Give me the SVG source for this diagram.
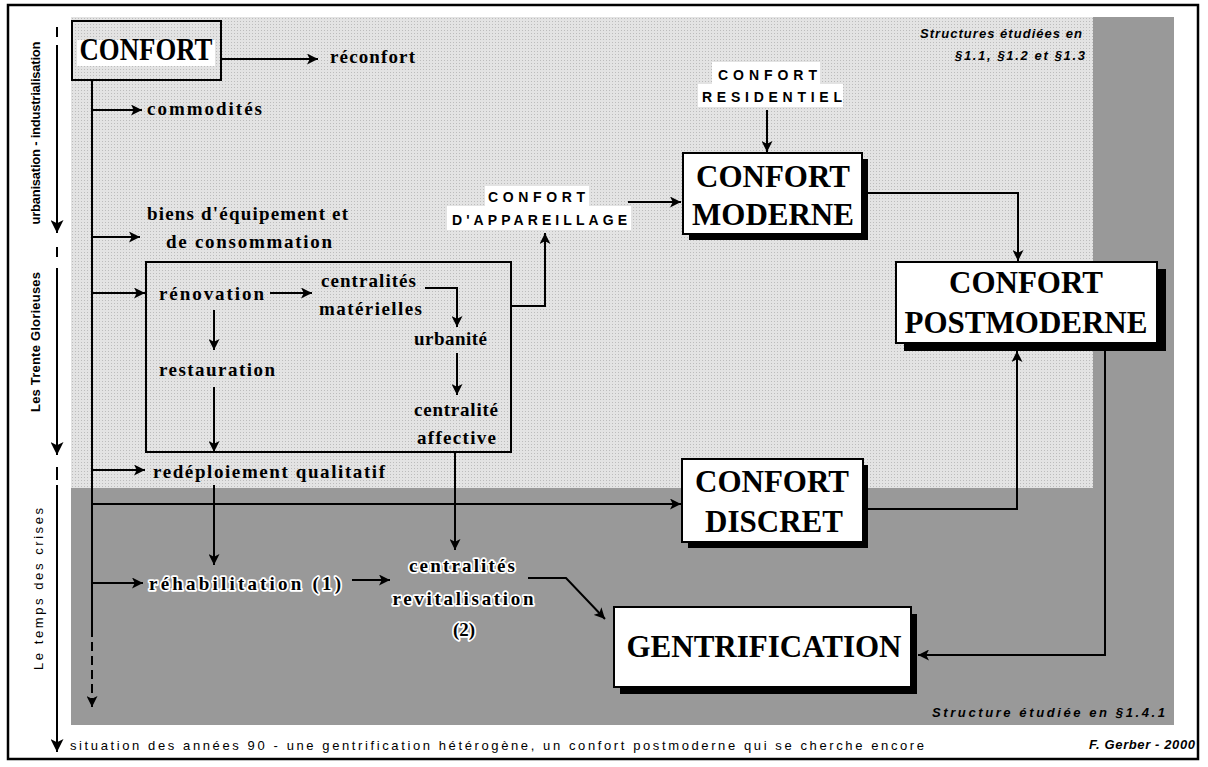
<svg xmlns="http://www.w3.org/2000/svg" width="1208" height="767" viewBox="0 0 1208 767">
<defs>
<pattern id="dots" width="3" height="3" patternUnits="userSpaceOnUse">
<rect width="3" height="3" fill="#e3e3e3"/>
<rect width="1" height="1" fill="#bcbcbc"/>
</pattern>
<marker id="ar" viewBox="0 0 10 10" markerWidth="11" markerHeight="11" refX="10" refY="5" orient="auto" markerUnits="userSpaceOnUse">
<path d="M0,0 L10,5 L0,10 L2.5,5 z" fill="#000"/>
</marker>
<marker id="arb" viewBox="0 0 10 10" markerWidth="13" markerHeight="13" refX="10" refY="5" orient="auto" markerUnits="userSpaceOnUse">
<path d="M0,0 L10,5 L0,10 L2.5,5 z" fill="#000"/>
</marker>
</defs>
<style>
.ln{fill:none;stroke:#000;stroke-width:2}
.arr{marker-end:url(#ar)}
.sl{font-family:"Liberation Serif",serif;font-weight:bold;font-size:19px;fill:#000}
.halo{stroke:#fff;stroke-width:3.5;paint-order:stroke;stroke-linejoin:round}
.box{fill:#fff;stroke:#000;stroke-width:2}
.sh{fill:#000}
.bt{font-family:"Liberation Serif",serif;font-weight:bold;font-size:31px;fill:#000;text-anchor:middle}
.sn{font-family:"Liberation Sans",sans-serif;font-weight:bold;font-size:14px;fill:#000}
.ax{font-family:"Liberation Sans",sans-serif;font-size:13px;fill:#000;text-anchor:middle}
.it{font-family:"Liberation Sans",sans-serif;font-style:italic;font-weight:bold;font-size:13px;fill:#000}
</style>
<rect x="0" y="0" width="1208" height="767" fill="#fff"/>
<rect x="8" y="5" width="1190" height="754" fill="#fff" stroke="#000" stroke-width="2.5"/>
<rect x="71" y="17" width="1103" height="708" fill="#999"/>
<rect x="71" y="17" width="1022" height="471" fill="url(#dots)"/>

<g id="axes">
<path class="ln" d="M57,27 V37 M57,247 V257 M57,467 V480" stroke-width="2"/>
<path class="ln" d="M57,45 V233" marker-end="url(#arb)"/>
<path class="ln" d="M57,268 V455" marker-end="url(#arb)"/>
<path class="ln" d="M57,485 V752" marker-end="url(#arb)"/>
<text class="ax" font-weight="bold" transform="translate(40,133) rotate(-90)" textLength="183" lengthAdjust="spacing">urbanisation - industrialisation</text>
<text class="ax" font-weight="bold" transform="translate(40,342) rotate(-90)" textLength="140" lengthAdjust="spacing">Les Trente Glorieuses</text>
<text class="ax" font-size="14" transform="translate(43,589) rotate(-90)" textLength="162" lengthAdjust="spacing">Le temps des crises</text>
</g>

<g id="connectors">
<path class="ln arr" d="M221,59 H318"/>
<path class="ln" d="M92,80 V628"/>
<path class="ln arr" d="M92,628 V707" stroke-dasharray="9,5"/>
<path class="ln arr" d="M92,110 H142"/>
<path class="ln arr" d="M92,237 H140"/>
<path class="ln arr" d="M92,293 H145"/>
<path class="ln arr" d="M270,293 H312"/>
<path class="ln arr" d="M425,288 H457 V327"/>
<path class="ln arr" d="M457,353 V395"/>
<path class="ln arr" d="M214,310 V350"/>
<path class="ln arr" d="M214,387 V452"/>
<path class="ln arr" d="M92,470 H145"/>
<path class="ln arr" d="M214,485 V565"/>
<path class="ln arr" d="M455,452 V550"/>
<path class="ln arr" d="M92,504 H681"/>
<path class="ln arr" d="M92,583 H143"/>
<path class="ln arr" d="M352,580 H390"/>
<path class="ln arr" d="M528,578 H566 L605,619" stroke-width="1.5"/>
<path class="ln arr" d="M511,306 H545 V233"/>
<path class="ln arr" d="M628,202 H681"/>
<path class="ln arr" d="M767,110 V152"/>
<path class="ln arr" d="M862,193 H1018 V261"/>
<path class="ln arr" d="M862,509 H1017 V351"/>
<path class="ln arr" d="M1105,350 V655 H918"/>
</g>

<g id="confort">
<rect x="72" y="21" width="149" height="59" fill="none" stroke="#000" stroke-width="2"/>
<rect x="77" y="40" width="138" height="26" fill="#fff"/>
<text x="146" y="60" class="bt" font-size="25" textLength="133" lengthAdjust="spacingAndGlyphs">CONFORT</text>
</g>
<g id="reconfort"><text class="sl" x="330" y="63" textLength="85" lengthAdjust="spacing">réconfort</text></g>
<g id="commodites"><text class="sl" x="147" y="115" textLength="115" lengthAdjust="spacing">commodités</text></g>
<g id="biens">
<text class="sl" x="147" y="220" textLength="201" lengthAdjust="spacing">biens d'équipement et</text>
<text class="sl" x="166" y="248" textLength="166" lengthAdjust="spacing">de consommation</text>
</g>

<g id="renovation-box">
<rect x="146" y="262" width="365" height="190" fill="none" stroke="#000" stroke-width="2"/>
</g>
<g id="renovation"><text class="sl" x="159" y="300" textLength="105" lengthAdjust="spacing">rénovation</text></g>
<g id="centralites-materielles">
<text class="sl" x="321" y="287" textLength="95" lengthAdjust="spacing">centralités</text>
<text class="sl" x="319" y="315" textLength="103" lengthAdjust="spacing">matérielles</text>
</g>
<g id="urbanite"><text class="sl" x="414" y="345" textLength="73" lengthAdjust="spacing">urbanité</text></g>
<g id="restauration"><text class="sl" x="159" y="376" textLength="116" lengthAdjust="spacing">restauration</text></g>
<g id="centralite-affective">
<text class="sl" x="414" y="416" textLength="84" lengthAdjust="spacing">centralité</text>
<text class="sl" x="417" y="444" textLength="79" lengthAdjust="spacing">affective</text>
</g>
<g id="redeploiement"><text class="sl" x="153" y="478" textLength="232" lengthAdjust="spacing">redéploiement qualitatif</text></g>
<g id="rehabilitation"><text class="sl halo" x="149" y="590" font-size="21" textLength="192" lengthAdjust="spacing">réhabilitation (1)</text></g>
<g id="centralites-revitalisation">
<text class="sl halo" x="462" y="572" text-anchor="middle" textLength="106" lengthAdjust="spacing">centralités</text>
<text class="sl halo" x="463" y="605" text-anchor="middle" textLength="141" lengthAdjust="spacing">revitalisation</text>
<text class="sl halo" x="464" y="636" text-anchor="middle">(2)</text>
</g>

<g id="confort-appareillage">
<rect x="485" y="186" width="104" height="20" fill="#fff"/>
<rect x="447" y="206" width="184" height="24" fill="#fff"/>
<text class="sn" x="488" y="202" textLength="97" lengthAdjust="spacing">CONFORT</text>
<text class="sn" x="452" y="225" textLength="175" lengthAdjust="spacing">D'APPAREILLAGE</text>
</g>
<g id="confort-residentiel">
<rect x="712" y="62" width="108" height="22" fill="#fff"/>
<rect x="698" y="84" width="145" height="23" fill="#fff"/>
<text class="sn" x="718" y="80" textLength="99" lengthAdjust="spacing">CONFORT</text>
<text class="sn" x="702" y="102" textLength="140" lengthAdjust="spacing">RESIDENTIEL</text>
</g>

<g id="confort-moderne">
<rect class="sh" x="689" y="159" width="179" height="81"/>
<rect class="box" x="683" y="153" width="179" height="81"/>
<text class="bt" x="773" y="187">CONFORT</text>
<text class="bt" x="773" y="225">MODERNE</text>
</g>
<g id="confort-postmoderne">
<rect class="sh" x="904" y="269" width="262" height="82"/>
<rect class="box" x="896" y="262" width="261" height="81"/>
<text class="bt" x="1026" y="293">CONFORT</text>
<text class="bt" x="1026" y="333">POSTMODERNE</text>
</g>
<g id="confort-discret">
<rect class="sh" x="688" y="465" width="180" height="83"/>
<rect class="box" x="682" y="459" width="181" height="83"/>
<text class="bt" x="772" y="492">CONFORT</text>
<text class="bt" x="774" y="532">DISCRET</text>
</g>
<g id="gentrification">
<rect class="sh" x="620" y="614" width="297" height="80"/>
<rect class="box" x="614" y="607" width="297" height="80"/>
<text class="bt" x="764" y="657">GENTRIFICATION</text>
</g>

<g id="notes">
<text class="it" x="1082" y="38" text-anchor="end" textLength="162" lengthAdjust="spacing">Structures étudiées en</text>
<text class="it" x="1085" y="60" text-anchor="end" textLength="130" lengthAdjust="spacing">§1.1, §1.2 et §1.3</text>
<text class="it" x="1165" y="717" text-anchor="end" textLength="233" lengthAdjust="spacing">Structure étudiée en §1.4.1</text>
<text x="70" y="750" font-family="Liberation Sans, sans-serif" font-size="13" textLength="854" lengthAdjust="spacing">situation des années 90 - une gentrification hétérogène, un confort postmoderne qui se cherche encore</text>
<text class="it" x="1195" y="749" font-size="12" text-anchor="end" textLength="106" lengthAdjust="spacing">F. Gerber - 2000</text>
</g>
</svg>
